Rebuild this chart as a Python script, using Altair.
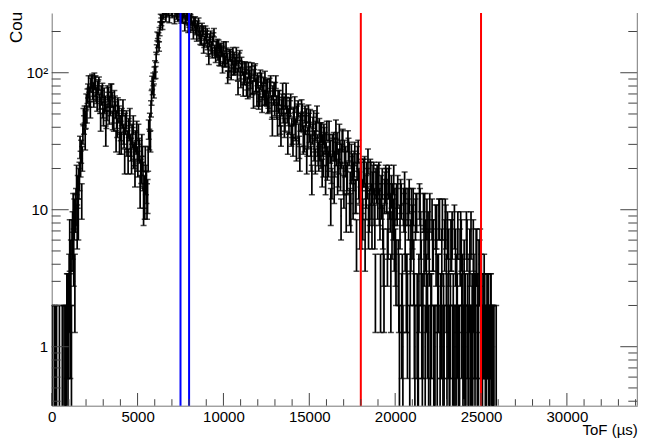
import altair as alt
import numpy as np
import pandas as pd

# ---------------- data ----------------
# every 100 us step of the ToF axis is split into three bins (A, C, B)
BIN_WIDTH = 100 / 3  # microseconds per bin
X_MAX = 34100
Y_MIN, Y_MAX = 0.371, 273

# first bin of every 100 us step, starting at 0 us
COUNTS_A = [
    1, 0, 1, 0, 0, 0, 1, 1, 1, 2,               # 0-900
    3, 4, 7, 9, 11, 14, 18, 27, 36, 50,         # 1000
    62, 74, 70, 86, 76, 84, 68, 80, 58, 66,     # 2000
    48, 60, 52, 70, 56, 64, 44, 54, 40, 50,     # 3000
    38, 46, 34, 42, 32, 38, 28, 34, 26, 31,     # 4000
    22, 27, 20, 18, 12, 15, 24, 44, 66, 90,     # 5000
    112, 148, 182, 220, 248, 270, 282, 296, 276, 302,  # 6000
    268, 290, 298, 272, 286, 260, 250, 270, 244, 256,  # 7000
    230, 242, 218, 226, 204, 214, 203, 172, 205, 171,  # 8000
    176, 144, 179, 157, 182, 141, 142, 161, 123, 143,  # 9000
    156, 121, 127, 102, 132, 125, 130, 110, 98, 128,   # 10000
    87, 106, 91, 108, 73, 94, 101, 79, 103, 81,        # 11000
    86, 65, 90, 75, 93, 65, 63, 77, 53, 66,            # 12000
    76, 53, 58, 42, 62, 58, 62, 50, 42, 62,            # 13000
    36, 49, 40, 52, 29, 44, 45, 32, 48, 34,            # 14000
    37, 24, 41, 32, 44, 26, 28, 37, 22, 31,            # 15000
    38, 22, 27, 16, 31, 28, 31, 23, 18, 32,            # 16000
    14, 24, 18, 26, 10, 21, 22, 13, 24, 15,            # 17000
    18, 9, 20, 14, 23, 11, 12, 17, 8, 15,              # 18000
    17, 9, 12, 5, 15, 13, 16, 10, 7, 17,               # 19000
    5, 11, 3, 13, 3, 10, 11, 2, 13, 6,                 # 20000
    8, 2, 10, 1, 12, 4, 2, 10, 3, 7,                   # 21000
    10, 2, 6, 1, 8, 3, 1, 5, 2, 9,                     # 22000
    1, 5, 2, 7, 1, 5, 2, 1, 7, 3,                      # 23000
    4, 1, 2, 3, 7, 1, 2, 5, 2, 4,                      # 24000
    3, 2, 2, 1, 2, 1, 1, 1, 0, 0,                      # 25000
]
# second bin of every 100 us step
COUNTS_C = [
    0, 1, 0, 0, 1, 0, 0, 0, 1, 1,               # 0-900
    6, 1, 10, 3, 17, 9, 29, 12, 48, 33,         # 1000
    50, 86, 54, 88, 64, 86, 60, 84, 44, 75,     # 2000
    69, 35, 72, 49, 74, 45, 66, 32, 58, 31,     # 3000
    31, 56, 23, 46, 23, 48, 23, 42, 19, 38,     # 4000
    36, 14, 30, 11, 24, 12, 39, 32, 85, 74,     # 5000
    101, 185, 156, 252, 222, 319, 252, 331, 247, 323,  # 6000
    317, 243, 310, 253, 313, 245, 291, 216, 278, 211,  # 7000
    212, 267, 190, 241, 183, 236, 174, 215, 151, 205,  # 8000
    196, 126, 188, 140, 196, 130, 163, 124, 152, 110,  # 9000
    121, 156, 93, 136, 99, 141, 107, 141, 78, 134,     # 10000
    119, 76, 110, 76, 109, 75, 108, 63, 106, 65,       # 11000
    62, 95, 59, 83, 66, 81, 59, 86, 41, 76,            # 12000
    86, 41, 66, 35, 75, 40, 75, 31, 58, 35,            # 13000
    30, 59, 28, 55, 24, 56, 31, 50, 23, 51,            # 14000
    47, 17, 46, 23, 50, 24, 37, 19, 36, 17,            # 15000
    21, 38, 11, 30, 15, 39, 17, 36, 9, 33,             # 16000
    27, 10, 32, 11, 25, 12, 26, 6, 27, 8,              # 17000
    8, 19, 6, 18, 8, 19, 8, 18, 3, 17,                 # 18000
    18, 3, 16, 3, 17, 5, 17, 3, 12, 6,                 # 19000
    4, 14, 1, 12, 1, 15, 3, 11, 1, 11,                 # 20000
    11, 1, 10, 1, 11, 2, 10, 1, 9, 1,                  # 21000
    1, 9, 1, 8, 1, 9, 2, 9, 1, 8,                      # 22000
    7, 1, 6, 1, 8, 1, 7, 1, 6, 1,                      # 23000
    1, 7, 1, 5, 1, 6, 1, 5, 1, 5,                      # 24000
    1, 2, 1, 2, 1, 2, 1, 1, 0, 0,                      # 25000
]
# third bin of every 100 us step
COUNTS_B = [
    0, 0, 1, 0, 0, 0, 0, 1, 2, 2,               # 0-900
    2, 6, 5, 10, 8, 16, 22, 24, 42, 46,         # 1000
    68, 64, 82, 72, 90, 70, 78, 62, 72, 54,     # 2000
    58, 46, 64, 60, 74, 50, 60, 46, 56, 42,     # 3000
    48, 36, 44, 30, 40, 30, 36, 25, 32, 24,     # 4000
    28, 19, 24, 14, 17, 13, 33, 55, 78, 100,    # 5000
    130, 165, 200, 236, 262, 288, 272, 290, 306, 280,  # 6000
    294, 276, 262, 300, 258, 282, 266, 248, 262, 238,  # 7000
    250, 222, 238, 208, 224, 190, 186, 198, 166, 188,  # 8000
    160, 168, 150, 172, 146, 158, 135, 150, 146, 128,  # 9000
    128, 140, 114, 136, 112, 106, 118, 124, 112, 100,  # 10000
    110, 92, 96, 84, 100, 86, 78, 96, 82, 90,          # 11000
    70, 84, 72, 66, 80, 58, 82, 60, 72, 56,            # 12000
    60, 66, 48, 56, 50, 44, 58, 48, 55, 40,            # 13000
    48, 38, 50, 36, 44, 52, 35, 42, 30, 44,            # 14000
    30, 36, 28, 38, 30, 40, 25, 30, 34, 26,            # 15000
    24, 30, 20, 28, 22, 26, 19, 27, 25, 17,            # 16000
    22, 17, 28, 15, 20, 18, 13, 21, 16, 19,            # 17000
    13, 19, 12, 16, 10, 18, 15, 11, 16, 12,            # 18000
    11, 14, 8, 13, 16, 7, 12, 14, 9, 11,               # 19000
    12, 4, 8, 2, 11, 6, 3, 9, 4, 7,                    # 20000
    4, 9, 2, 3, 7, 1, 5, 6, 2, 5,                      # 21000
    2, 6, 1, 5, 3, 9, 2, 1, 6, 3,                      # 22000
    2, 1, 6, 2, 1, 3, 1, 5, 2, 1,                      # 23000
    2, 6, 1, 1, 2, 3, 2, 1, 4, 2,                      # 24000
    1, 3, 1, 2, 1, 2, 1, 0, 1, 0,                      # 25000
]

BLUE_LINES = [7500, 8000]
RED_LINES = [18000, 25000]

X_LABELS = [0, 5000, 10000, 15000, 20000, 25000, 30000]
X_MINOR = [k * 1000 for k in range(1, 35) if k % 5 != 0]
Y_LABELS = [1, 10, 100]
Y_MINOR = [0.4, 0.5, 0.6, 0.7, 0.8, 0.9,
           2, 3, 4, 5, 6, 7, 8, 9,
           20, 30, 40, 50, 60, 70, 80, 90, 200]
Y_TITLE = ["Counts"]
X_TITLE = "ToF (µs)"

# ---------------- derived table ----------------
counts = np.column_stack([COUNTS_A, COUNTS_C, COUNTS_B]).ravel()
starts = np.arange(len(counts)) * BIN_WIDTH
df = pd.DataFrame({
    "start": starts,
    "end": starts + BIN_WIDTH,
    "center": starts + BIN_WIDTH / 2,
    "count": counts,
})
df = df[df["count"] > 0].copy()
err = np.sqrt(df["count"])
df["hi"] = df["count"] + err
df["lo"] = np.maximum(df["count"] - err, 0.05)

# ---------------- layout ----------------
W, H = 585.6, 392.7
FONT = "Liberation Sans"
AXC = "#777777"
TICKC = "#444444"

xs = alt.Scale(domain=[0, X_MAX], nice=False, zero=False)
ys = alt.Scale(type="log", domain=[Y_MIN, Y_MAX], nice=False)

xaxis = alt.Axis(
    values=X_LABELS, format="d", labelFont=FONT, labelFontSize=15,
    labelColor="black", labelFlush=False, labelOverlap=False,
    ticks=False, grid=False, domainColor=AXC, labelPadding=4,
    title=X_TITLE, titleFont=FONT, titleFontSize=15, titleFontWeight="normal",
    titleColor="black", titleAnchor="end", titleAlign="right",
    titleBaseline="alphabetic", titleX=W, titleY=29,
)
yaxis = alt.Axis(
    values=Y_LABELS,
    labelExpr="datum.value == 100 ? '10²' : (datum.value == 10 ? '10' : '1')",
    labelFont=FONT, labelFontSize=15, labelColor="black",
    labelOverlap=False, labelFlush=False,
    ticks=False, grid=False, domainColor=AXC, labelPadding=4, title=None,
)

X = lambda f: alt.X(f, scale=xs, axis=xaxis)
Y = lambda f: alt.Y(f, scale=ys, axis=yaxis)

bars = alt.Chart(df).mark_rule(color="black", strokeWidth=1.7, clip=True).encode(
    x=X("center:Q"), y=Y("lo:Q"), y2="hi:Q")
hbar = alt.Chart(df).mark_rule(color="black", strokeWidth=1.5, clip=True).encode(
    x=X("start:Q"), x2="end:Q", y=Y("count:Q"))
caps_hi = alt.Chart(df).mark_tick(color="black", orient="horizontal", size=6,
                                  thickness=1.5, clip=True).encode(
    x=X("center:Q"), y=Y("hi:Q"))
caps_lo = alt.Chart(df).mark_tick(color="black", orient="horizontal", size=6,
                                  thickness=1.5, clip=True).encode(
    x=X("center:Q"), y=Y("lo:Q"))

blue = alt.Chart(pd.DataFrame({"v": BLUE_LINES})).mark_rule(
    color="#0000ff", strokeWidth=2).encode(
    x=X("v:Q"), y=alt.value(0), y2=alt.value(H))
red = alt.Chart(pd.DataFrame({"v": RED_LINES})).mark_rule(
    color="#ff0000", strokeWidth=2).encode(
    x=X("v:Q"), y=alt.value(0), y2=alt.value(H))

xmaj = alt.Chart(pd.DataFrame({"v": X_LABELS})).mark_rule(color=TICKC, strokeWidth=1).encode(
    x=X("v:Q"), y=alt.value(H), y2=alt.value(H - 12.7))
xmin = alt.Chart(pd.DataFrame({"v": X_MINOR})).mark_rule(color=TICKC, strokeWidth=1).encode(
    x=X("v:Q"), y=alt.value(H), y2=alt.value(H - 6.5))

ymaj_l = alt.Chart(pd.DataFrame({"v": Y_LABELS})).mark_rule(color=TICKC, strokeWidth=1).encode(
    y=Y("v:Q"), x=alt.value(0), x2=alt.value(17))
ymin_l = alt.Chart(pd.DataFrame({"v": Y_MINOR})).mark_rule(color=TICKC, strokeWidth=1).encode(
    y=Y("v:Q"), x=alt.value(0), x2=alt.value(9))
ymaj_r = alt.Chart(pd.DataFrame({"v": Y_LABELS})).mark_rule(color=TICKC, strokeWidth=1).encode(
    y=Y("v:Q"), x=alt.value(W), x2=alt.value(W - 17))
ymin_r = alt.Chart(pd.DataFrame({"v": Y_MINOR})).mark_rule(color=TICKC, strokeWidth=1).encode(
    y=Y("v:Q"), x=alt.value(W), x2=alt.value(W - 9))
right_line = alt.Chart(pd.DataFrame({"v": [0]})).mark_rule(color=AXC, strokeWidth=1).encode(
    x=alt.value(W), y=alt.value(0), y2=alt.value(H))

ytitle = alt.Chart(pd.DataFrame({"t": Y_TITLE})).mark_text(
    angle=270, align="left", baseline="alphabetic", font=FONT, fontSize=17,
    color="black", limit=38, ellipsis=" ").encode(
    text="t:N", x=alt.value(-29.5), y=alt.value(30))

chart = alt.layer(
    bars, hbar, caps_hi, caps_lo, blue, red,
    xmaj, xmin, ymaj_l, ymin_l, ymaj_r, ymin_r, right_line, ytitle,
).properties(
    width=W, height=H,
    autosize=alt.AutoSizeParams(type="none"),
    padding={"left": 51.7, "top": 13, "right": 645 - 51.7 - W, "bottom": 441 - 13 - H},
    background="white",
).configure_view(strokeWidth=0)

chart.save("out.html", embed_options={"renderer": "svg", "actions": False})
